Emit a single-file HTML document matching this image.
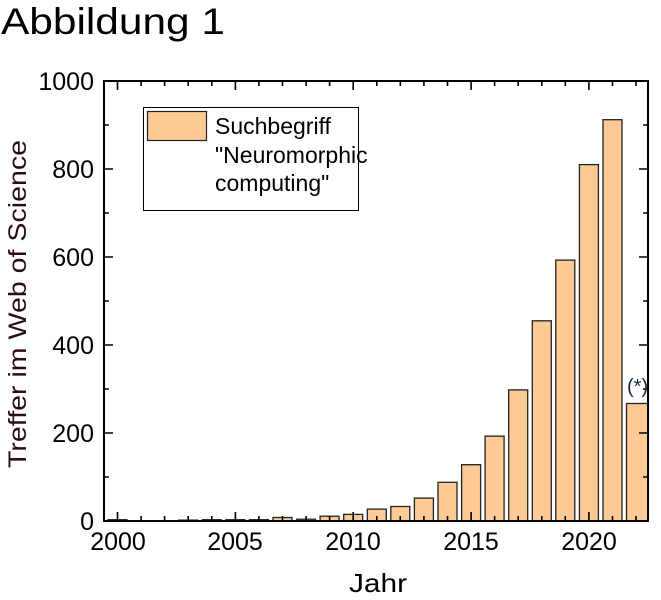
<!DOCTYPE html>
<html><head><meta charset="utf-8"><style>
body{margin:0;background:#fff;}
svg{display:block;}
text{font-family:"Liberation Sans",sans-serif;}
</style></head><body>
<svg width="661" height="600" xmlns="http://www.w3.org/2000/svg">
<text x="1" y="34" font-size="37" textLength="224" lengthAdjust="spacingAndGlyphs" fill="#000">Abbildung 1</text>
<g fill="#fdca96" stroke="#222" stroke-width="1.3">
<rect x="108" y="519.7" width="19" height="1.3"/>
<rect x="178.7" y="520.1" width="19" height="0.9"/>
<rect x="202.3" y="519.7" width="19" height="1.3"/>
<rect x="225.9" y="519.7" width="19" height="1.3"/>
<rect x="249.4" y="519.7" width="19" height="1.3"/>
<rect x="273" y="517.5" width="19" height="3.5"/>
<rect x="296.6" y="519.2" width="19" height="1.8"/>
<rect x="320.1" y="516.2" width="19" height="4.8"/>
<rect x="343.7" y="514.4" width="19" height="6.6"/>
<rect x="367.3" y="509.1" width="19" height="11.9"/>
<rect x="390.8" y="506.5" width="19" height="14.5"/>
<rect x="414.4" y="498.1" width="19" height="22.9"/>
<rect x="438" y="482.3" width="19" height="38.7"/>
<rect x="461.6" y="464.7" width="19" height="56.3"/>
<rect x="485.1" y="436.1" width="19" height="84.9"/>
<rect x="508.7" y="389.9" width="19" height="131.1"/>
<rect x="532.3" y="320.8" width="19" height="200.2"/>
<rect x="555.8" y="260.1" width="19" height="260.9"/>
<rect x="579.4" y="164.6" width="19" height="356.4"/>
<rect x="603" y="119.7" width="19" height="401.3"/>
<rect x="626.5" y="403.5" width="21.5" height="117.5"/>
</g>
<path stroke="#000" stroke-width="1.6" fill="none" d="
M117.5 521v-9M141.1 521v-5M164.6 521v-5M188.2 521v-5M211.8 521v-5M235.4 521v-9M258.9 521v-5M282.5 521v-5M306.1 521v-5M329.6 521v-5M353.2 521v-9M376.8 521v-5M400.3 521v-5M423.9 521v-5M447.5 521v-5M471.1 521v-9M494.6 521v-5M518.2 521v-5M541.8 521v-5M565.3 521v-5M588.9 521v-9M612.5 521v-5M636 521v-5
M117.5 81v9M141.1 81v5M164.6 81v5M188.2 81v5M211.8 81v5M235.4 81v9M258.9 81v5M282.5 81v5M306.1 81v5M329.6 81v5M353.2 81v9M376.8 81v5M400.3 81v5M423.9 81v5M447.5 81v5M471.1 81v9M494.6 81v5M518.2 81v5M541.8 81v5M565.3 81v5M588.9 81v9M612.5 81v5M636 81v5
M104 477h5M104 433h9M104 389h5M104 345h9M104 301h5M104 257h9M104 213h5M104 169h9M104 125h5
M648 477h-5M648 433h-9M648 389h-5M648 345h-9M648 301h-5M648 257h-9M648 213h-5M648 169h-9M648 125h-5"/>
<rect x="104" y="81" width="544" height="440" fill="none" stroke="#000" stroke-width="2"/>
<g font-size="25" fill="#000" text-anchor="end">
<text x="94" y="530">0</text>
<text x="94" y="442">200</text>
<text x="94" y="354">400</text>
<text x="94" y="266">600</text>
<text x="94" y="178">800</text>
<text x="94" y="90">1000</text>
</g>
<g font-size="25" fill="#000" text-anchor="middle">
<text x="118" y="550">2000</text>
<text x="235" y="550">2005</text>
<text x="353" y="550">2010</text>
<text x="471" y="550">2015</text>
<text x="589" y="550">2020</text>
</g>
<rect x="143.5" y="107.5" width="215" height="103" fill="#fff" stroke="#000" stroke-width="1"/>
<rect x="147.5" y="111.5" width="59" height="29" fill="#fdca96" stroke="#222" stroke-width="1.2"/>
<text x="215" y="134" font-size="23">Suchbegriff</text>
<text x="215" y="163" font-size="23">"Neuromorphic</text>
<text x="215" y="191" font-size="23">computing"</text>
<text x="627" y="393" font-size="20" fill="#1a2740">(*)</text>
<text x="378" y="592" font-size="26" text-anchor="middle" textLength="58" lengthAdjust="spacingAndGlyphs">Jahr</text>
<text transform="translate(26,304) rotate(-90)" font-size="25" text-anchor="middle" fill="#2a0c14" textLength="328" lengthAdjust="spacingAndGlyphs">Treffer im Web of Science</text>
</svg>
</body></html>
